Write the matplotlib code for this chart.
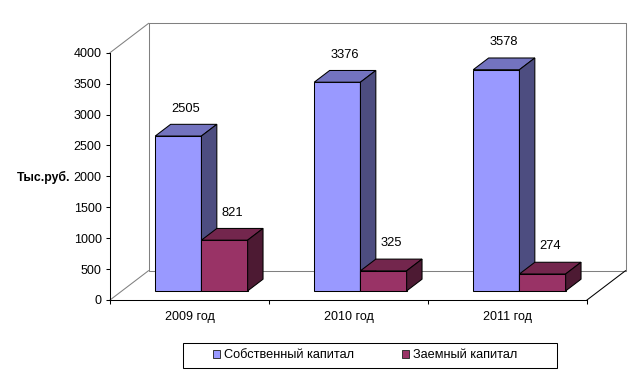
import matplotlib
matplotlib.use("Agg")
import matplotlib.pyplot as plt
from matplotlib.patches import Polygon, Rectangle, Patch
from matplotlib.lines import Line2D

plt.rcParams['font.family'] = ['Liberation Sans', 'DejaVu Sans']

# ---- data ----
categories = ["2009 год", "2010 год", "2011 год"]
series_names = ["Собственный капитал", "Заемный капитал"]
own_capital = [2505, 3376, 3578]
borrowed_capital = [821, 325, 274]
y_ticks = [0, 500, 1000, 1500, 2000, 2500, 3000, 3500, 4000]
y_label = "Тыс.руб."

# ---- style ----
face_cols = ["#9999FF", "#993366"]
top_cols = ["#7373BF", "#73264D"]
side_cols = ["#4D4D80", "#4D1A33"]

W, H = 642, 377
fig = plt.figure(figsize=(W / 100, H / 100), dpi=100)
# front plane of the 3D box
ax = fig.add_axes([110 / W, 77 / H, 477 / W, 247.3 / H])
ymax = 4000
ax.set_xlim(0, len(categories))
ax.set_ylim(0, ymax)

px_x = 477 / len(categories)      # px per category unit
px_y = 247.3 / ymax               # px per value unit
DX = 38.5 / px_x                  # full depth offset in data units
DY = 29.3 / px_y
f0, fd = 0.31, 0.40               # bar start depth, bar depth (fractions)
bw = 46.2 / px_x                  # bar width

gray = "#808080"
lw = 0.75
def line(xs, ys, c, z=1):
    ax.add_line(Line2D(xs, ys, color=c, lw=lw, clip_on=False, zorder=z))

n = len(categories)
# back wall
line([DX, n + DX, n + DX, DX, DX], [ymax + DY, ymax + DY, DY, DY, ymax + DY], gray)
# left wall diagonals
line([0, DX], [ymax, ymax + DY], gray)
line([0, DX], [0, DY], gray)
# floor right diagonal
line([n, n + DX], [0, DY], "black")

def bar3d(x0, h, i):
    bx, by = x0 + f0 * DX, f0 * DY
    ddx, ddy = fd * DX, fd * DY
    kw = dict(edgecolor="black", lw=lw, clip_on=False, zorder=3, joinstyle="miter")
    front = Polygon([(bx, by), (bx + bw, by), (bx + bw, by + h), (bx, by + h)], closed=True,
                    facecolor=face_cols[i], **kw)
    top = Polygon([(bx, by + h), (bx + bw, by + h), (bx + bw + ddx, by + h + ddy),
                   (bx + ddx, by + h + ddy)], closed=True, facecolor=top_cols[i], **kw)
    side = Polygon([(bx + bw, by), (bx + bw + ddx, by + ddy), (bx + bw + ddx, by + h + ddy),
                    (bx + bw, by + h)], closed=True, facecolor=side_cols[i], **kw)
    for p in (front, top, side):
        ax.add_patch(p)
    ax.text(bx + bw / 2 + ddx / 2, by + h + 27.5 / px_y, f"{h}", ha="center", va="center",
            fontsize=9.3, clip_on=False, zorder=4)

for k in range(n):
    c = k + 0.5
    bar3d(c - bw, own_capital[k], 0)
    bar3d(c, borrowed_capital[k], 1)

# axes styling
for s in ("top", "right"):
    ax.spines[s].set_visible(False)
for s in ("left", "bottom"):
    ax.spines[s].set_linewidth(lw)
    ax.spines[s].set_zorder(5)
ax.set_yticks(y_ticks)
ax.set_yticklabels([str(t) for t in y_ticks])
ax.tick_params(axis="y", direction="out", length=3, width=lw, pad=3, labelsize=9)
ax.set_xticks(range(n + 1))
ax.set_xticklabels([""] * (n + 1))
ax.tick_params(axis="x", which="major", direction="out", length=3, width=lw)
ax.set_xticks([k + 0.5 for k in range(n)], minor=True)
ax.set_xticklabels(categories, minor=True)
ax.tick_params(axis="x", which="minor", length=0, pad=8, labelsize=9)
ax.patch.set_visible(False)

fig.text(44 / W, 1 - 177 / H, y_label, ha="center", va="center", fontsize=8.8, fontweight="bold")

# legend
fig.patches.append(Rectangle((183 / W, 1 - 368 / H), 374 / W, 25 / H, transform=fig.transFigure,
                             fill=False, edgecolor="black", lw=lw))
handles = [Patch(facecolor=face_cols[i], edgecolor="#333333", lw=0.7) for i in range(2)]
fig.legend(handles, series_names, ncol=2, loc="center", bbox_to_anchor=(365 / W, 1 - 355.5 / H),
           frameon=False, fontsize=9.2, handlelength=0.6, handleheight=0.6, handletextpad=0.3,
           columnspacing=3.7, borderpad=0)

fig.savefig("out.png", dpi=100)
